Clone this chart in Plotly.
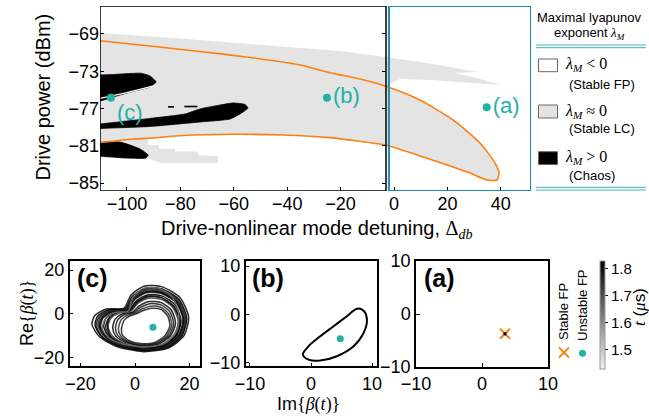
import plotly.graph_objects as go

W, H = 649, 418
FONT = "Liberation Sans, Arial, sans-serif"
TEAL = "#22b1a5"
ORANGE = "#ff7f0e"
CYAN = "#1a8db3"
GRAY = "#e4e4e4"

# ---------------- data: main map ----------------
X_TICKS = [-100, -80, -60, -40, -20, 0, 20, 40]
Y_TICKS = [-69, -73, -77, -81, -85]

# orange boundary (upper branch, then lower branch)
OR_UP_X = [-110.1, -91.4, -72.7, -53.9, -35.2, -24.0, -12.7, -2.2, 9.7, 22.1, 32.2, 37.8, 39.3, 38.6]
OR_UP_Y = [-69.72, -70.29, -70.88, -71.52, -72.32, -73.15, -73.83, -74.68, -76.08, -78.22, -80.69, -82.83, -83.91, -84.66]
OR_LO_X = [34.8, 28.5, 22.1, 9.7, -2.2, -24.0, -41.6, -60.3, -79.0, -92.1, -97.8, -110.1]
OR_LO_Y = [-84.66, -83.91, -83.26, -82.08, -80.98, -80.12, -79.83, -79.76, -79.88, -80.19, -80.26, -80.64]

# stable limit-cycle region (grey): top edge incl. fingers
LC_TOP_X = [-110.1, -72.7, -35.2, -20.2, -3.4, 9.7, 21.0, 31.1, 22.8, 32.2, 39.7, 28.5, 13.5, 2.2, -1.5]
LC_TOP_Y = [-68.89, -69.64, -70.50, -70.82, -71.47, -72.0, -72.54, -73.08, -73.18, -73.83, -74.47, -74.25, -73.93, -73.83, -74.36]
# grey wedge below the lower branch
LC_LOW_X = [-92.1, -88.0, -88.0, -82.0, -82.0, -73.4, -73.4, -65.9, -65.9, -87.3, -92.1, -110.1]
LC_LOW_Y = [-80.90, -80.90, -81.30, -81.30, -81.60, -81.60, -82.00, -82.10, -82.83, -82.83, -82.30, -82.30]

# chaos regions (black)
CH1_X = [-110.1, -104.5, -98.9, -94.8, -91.4, -89.1, -91.4, -97.0, -102.6, -110.1]
CH1_Y = [-73.40, -73.34, -73.24, -73.21, -73.50, -74.15, -74.68, -75.11, -75.54, -76.20]
CH2_X = [-110.1, -91.4, -78.3, -72.7, -67.0, -60.3, -55.8, -54.7, -57.7, -61.4, -72.7, -91.4, -110.1]
CH2_Y = [-78.65, -78.06, -77.58, -77.04, -76.72, -76.40, -76.56, -76.94, -77.58, -78.12, -78.44, -78.92, -79.13]
CH3_X = [-110.1, -102.6, -98.9, -95.1, -92.1, -92.9, -100.7, -110.1]
CH3_Y = [-80.64, -80.59, -80.91, -81.34, -81.98, -82.30, -82.30, -82.09]
GAP_X = [-110.1, -100.0, -89.6]
GAP_Y = [-75.90, -75.30, -74.55]
SPECK_X = [-84.6, -82.4, None, -78.5, -73.6]
SPECK_Y = [-76.82, -76.82, None, -76.78, -76.78]

# marked operating points
PT_X = [-106.0, -25.1, 34.7]
PT_Y = [-75.83, -75.83, -76.86]
PT_LAB = ["(c)", "(b)", "(a)"]

# ---------------- data: phase portraits ----------------
# (c) chaotic attractor: strands read by hand, inner to outer
C_LOOPS = [
    ([-5.0, -4.0, -2.0, 0.5, 3.0, 6.0, 9.5, 12.0, 12.8, 11.0, 7.0, 2.0, -2.5, -4.5, -5.0],
     [-7.0, -3.0, -1.0, 0.0, 1.5, 2.5, 2.0, -1.0, -5.5, -10.0, -13.2, -13.6, -12.0, -10.0, -7.0]),
    ([-6.1, -5.1, -2.9, 0.0, 2.5, 5.7, 9.5, 12.4, 13.5, 11.7, 7.5, 2.1, -3.0, -5.3, -6.1],
     [-6.8, -2.8, -0.7, 0.3, 2.2, 3.5, 3.0, -0.1, -5.1, -10.0, -13.4, -14.0, -12.3, -10.0, -6.8]),
    ([-7.2, -6.2, -3.8, -0.4, 2.0, 5.4, 9.5, 12.9, 14.2, 12.4, 8.0, 2.2, -3.4, -6.2, -7.2],
     [-6.6, -2.5, -0.3, 0.6, 2.9, 4.6, 4.1, 0.8, -4.7, -10.0, -13.6, -14.4, -12.5, -10.1, -6.6]),
    ([-8.2, -7.2, -4.6, -0.9, 1.6, 5.2, 9.6, 13.4, 14.9, 13.1, 8.6, 2.3, -3.9, -7.1, -8.2],
     [-6.4, -2.3, 0.0, 0.8, 3.6, 5.6, 5.1, 1.6, -4.3, -10.0, -13.9, -14.7, -12.8, -10.1, -6.4]),
    ([-9.9, -8.9, -5.8, -1.5, 1.0, 4.9, 9.7, 14.0, 15.9, 14.2, 9.5, 2.5, -4.5, -8.3, -9.9],
     [-6.1, -2.0, 0.4, 1.2, 4.7, 7.1, 6.6, 2.8, -3.7, -10.0, -14.2, -15.3, -13.3, -10.2, -6.1]),
    ([-10.2, -9.2, -6.2, -1.8, 0.8, 4.8, 9.6, 14.3, 16.6, 14.9, 9.8, 2.5, -4.9, -8.9, -10.2],
     [-5.5, -1.5, 0.8, 1.6, 5.2, 7.8, 7.4, 3.2, -3.8, -10.4, -14.6, -15.6, -13.6, -10.6, -5.5]),
    ([-10.8, -9.6, -6.5, -2.0, 0.6, 4.7, 9.5, 14.2, 16.4, 14.8, 9.9, 2.7, -4.8, -9.0, -10.8],
     [-6.0, -1.9, 0.7, 1.5, 5.3, 8.0, 7.5, 3.5, -3.3, -10.0, -14.4, -15.5, -13.5, -10.3, -6.0]),
    ([-11.5, -10.5, -7.1, -2.2, 0.3, 4.5, 9.8, 14.7, 16.9, 15.2, 10.3, 2.6, -5.2, -9.6, -11.5],
     [-5.8, -1.7, 0.9, 1.6, 5.7, 8.6, 8.2, 4.1, -3.1, -10.0, -14.6, -15.8, -13.7, -10.3, -5.8]),
    ([-12.6, -11.6, -8.0, -2.7, -0.2, 4.2, 9.9, 15.2, 17.6, 15.9, 10.9, 2.7, -5.7, -10.5, -12.6],
     [-5.6, -1.5, 1.2, 1.8, 6.4, 9.6, 9.2, 5.0, -2.7, -10.0, -14.8, -16.2, -14.0, -10.4, -5.6]),
    ([-12.9, -11.9, -8.3, -2.8, -0.3, 4.1, 9.8, 15.3, 17.8, 16.1, 11.0, 2.7, -5.8, -10.7, -12.9],
     [-6.2, -2.0, 1.0, 1.7, 6.6, 9.9, 9.5, 5.2, -2.6, -9.6, -14.6, -16.1, -13.8, -10.0, -6.2]),
    ([-13.1, -12.0, -8.5, -2.9, -0.4, 4.1, 9.8, 15.4, 17.9, 16.3, 11.2, 2.8, -5.9, -10.9, -13.1],
     [-5.5, -1.3, 1.4, 2.0, 6.8, 10.2, 9.7, 5.4, -2.5, -10.0, -14.9, -16.4, -14.1, -10.4, -5.5]),
    ([-13.6, -12.6, -8.8, -3.1, -0.6, 4.0, 9.9, 15.6, 18.3, 16.6, 11.4, 2.8, -6.1, -11.3, -13.6],
     [-5.4, -1.2, 1.6, 2.1, 7.1, 10.7, 10.2, 5.8, -2.3, -10.0, -15.0, -16.6, -14.2, -10.4, -5.4]),
    ([-14.2, -13.2, -9.2, -3.3, -0.8, 3.9, 10.0, 15.8, 18.6, 17.0, 11.7, 2.9, -6.3, -11.8, -14.2],
     [-5.6, -1.4, 1.7, 2.0, 7.4, 11.2, 10.8, 6.2, -2.1, -10.2, -15.1, -16.8, -14.3, -10.8, -5.6]),
    ([-14.7, -13.7, -9.7, -3.6, -1.1, 3.7, 10.0, 16.1, 19.0, 17.3, 12.0, 2.9, -6.6, -12.2, -14.7],
     [-5.2, -1.0, 1.9, 2.3, 7.8, 11.7, 11.3, 6.6, -1.9, -10.0, -15.3, -16.9, -14.5, -10.5, -5.2]),
    ([-15.8, -14.8, -10.5, -4.0, -1.5, 3.5, 10.0, 16.5, 19.7, 18.0, 12.5, 3.0, -7.0, -13.0, -15.8],
     [-5.0, -0.8, 2.2, 2.6, 8.5, 12.7, 12.3, 7.5, -1.5, -10.0, -15.5, -17.3, -14.8, -10.5, -5.0]),
    ([-12.0, -11.0, -7.5, -2.5, -0.8, 3.0, 8.5, 13.5, 16.0, 15.5, 11.0, 3.5, -4.5, -9.5, -12.0],
     [-7.0, -2.5, 0.5, 1.3, 7.5, 11.5, 11.8, 8.0, 0.5, -7.5, -13.5, -15.2, -13.8, -11.0, -7.0]),
]
C_COLORS = ["#262626", "#333333", "#1f1f1f", "#111111", "#444444", "#0a0a0a", "#1a1a1a", "#000000",
            "#3a3a3a", "#141414", "#0d0d0d", "#222222", "#2b2b2b", "#000000", "#111111", "#707070"]
C_FP = ([6.6], [-6.1])

# (b) limit cycle
B_X = [-1.34, -0.41, 1.5, 3.69, 5.87, 7.51, 8.61, 9.15, 8.61, 6.97, 4.23, 1.5, -0.41, -1.34]
B_Y = [-8.29, -6.56, -4.5, -2.43, -0.37, 1.2, 0.78, -1.07, -3.81, -6.56, -8.62, -9.52, -9.32, -8.29]
B_FP = ([4.79], [-4.99])

# (a) stable fixed point
A_FP = ([3.48], [-3.74])

CB_TICKS = [1.5, 1.6, 1.7, 1.8]
CB_RANGE = [1.43, 1.83]


def px(x):
    return x / W


def py(y):
    return 1 - y / H


fig = go.Figure()

# ---------- main map ----------
up_i = OR_UP_X.index(-2.2)
lo_i = OR_LO_X.index(-92.1)
lc_x = LC_TOP_X + OR_UP_X[up_i:] + OR_LO_X[:lo_i + 1] + LC_LOW_X
lc_y = LC_TOP_Y + OR_UP_Y[up_i:] + OR_LO_Y[:lo_i + 1] + LC_LOW_Y
fig.add_trace(go.Scatter(x=lc_x, y=lc_y, fill="toself", fillcolor=GRAY, mode="lines",
                         line=dict(width=0, color=GRAY), hoverinfo="skip", showlegend=False))
for cx, cy in [(CH1_X, CH1_Y), (CH2_X, CH2_Y), (CH3_X, CH3_Y)]:
    fig.add_trace(go.Scatter(x=cx, y=cy, fill="toself", fillcolor="black", mode="lines",
                             line=dict(width=0.8, color="black", shape="spline", smoothing=0.5),
                             showlegend=False))
fig.add_trace(go.Scatter(x=GAP_X, y=GAP_Y, mode="lines", line=dict(color="white", width=1.3),
                         showlegend=False))
fig.add_trace(go.Scatter(x=SPECK_X, y=SPECK_Y, mode="lines", line=dict(color="black", width=1.6),
                         showlegend=False))
fig.add_trace(go.Scatter(x=OR_UP_X + OR_LO_X, y=OR_UP_Y + OR_LO_Y, mode="lines",
                         line=dict(color=ORANGE, width=1.6, shape="spline", smoothing=0.6),
                         showlegend=False))
fig.add_trace(go.Scatter(x=PT_X, y=PT_Y, mode="markers+text", text=PT_LAB,
                         textposition=["bottom right", "middle right", "middle right"],
                         textfont=dict(family=FONT, size=22, color=TEAL),
                         marker=dict(color=TEAL, size=8), showlegend=False))
# invisible trace for the right tick column of the black frame
fig.add_trace(go.Scatter(x=[None], y=[None], yaxis="y2", showlegend=False))

# ---------- phase portraits ----------
for (lx, ly), col in zip(C_LOOPS, C_COLORS):
    fig.add_trace(go.Scatter(x=lx, y=ly, xaxis="x2", yaxis="y3", mode="lines",
                             line=dict(color=col, width=1.5, shape="spline", smoothing=0.7),
                             opacity=0.9, showlegend=False))
fig.add_trace(go.Scatter(x=C_FP[0], y=C_FP[1], xaxis="x2", yaxis="y3", mode="markers",
                         marker=dict(color=TEAL, size=7), showlegend=False))

fig.add_trace(go.Scatter(x=B_X, y=B_Y, xaxis="x3", yaxis="y4", mode="lines",
                         line=dict(color="black", width=2, shape="spline", smoothing=1.0),
                         showlegend=False))
fig.add_trace(go.Scatter(x=B_FP[0], y=B_FP[1], xaxis="x3", yaxis="y4", mode="markers",
                         marker=dict(color=TEAL, size=7), showlegend=False))

fig.add_trace(go.Scatter(x=A_FP[0], y=A_FP[1], xaxis="x4", yaxis="y5", mode="markers",
                         marker=dict(symbol="x-thin", size=10, line=dict(color=ORANGE, width=2)),
                         showlegend=False))
fig.add_trace(go.Scatter(x=A_FP[0], y=A_FP[1], xaxis="x4", yaxis="y5", mode="markers",
                         marker=dict(symbol="square", color="black", size=3), showlegend=False))
# colour bar (time)
fig.add_trace(go.Scatter(x=[100, 100], y=[100, 100], xaxis="x4", yaxis="y5", mode="markers",
                         marker=dict(color=CB_TICKS[:2], cmin=CB_RANGE[0], cmax=CB_RANGE[1],
                                     colorscale=[[0, "#f3f3f3"], [1, "#000000"]], showscale=True,
                                     colorbar=dict(x=px(600), xanchor="left", y=py(314.5), yanchor="middle",
                                                   len=108 / H, lenmode="fraction", thickness=5,
                                                   thicknessmode="pixels", xpad=0, ypad=0,
                                                   outlinewidth=1, outlinecolor="#999999",
                                                   tickvals=CB_TICKS, ticks="outside", ticklen=3,
                                                   tickcolor="black",
                                                   tickfont=dict(family=FONT, size=15, color="black"))),
                         showlegend=False))

# ---------- axes ----------
tick_common = dict(ticks="inside", ticklen=4, tickwidth=1, tickcolor="black", showgrid=False,
                   zeroline=False, automargin=False, tickfont=dict(family=FONT, size=18, color="black"))
frame = dict(showline=True, linecolor="black", linewidth=1.5, mirror=True)

fig.update_layout(
    template="none",
    width=W, height=H, margin=dict(l=0, r=0, t=0, b=0, pad=0), autosize=False,
    paper_bgcolor="white", plot_bgcolor="white", showlegend=False,
    font=dict(family=FONT, color="black"),
    xaxis=dict(domain=[px(100), px(531)], range=[-110.1, 51.3], tickvals=X_TICKS, anchor="y",
               showline=False, **tick_common),
    yaxis=dict(domain=[py(191), py(6)], range=[-85.84, -66.0], tickvals=Y_TICKS, anchor="x",
               showline=False, **tick_common),
    yaxis2=dict(overlaying="y", side="right", anchor="free", position=px(386), range=[-85.84, -66.0],
                tickvals=Y_TICKS, showticklabels=False, showline=False, ticks="inside", ticklen=4,
                tickcolor="black", showgrid=False, zeroline=False, automargin=False),
    xaxis2=dict(domain=[px(69.7), px(200.3)], range=[-24, 24], tickvals=[-20, 0, 20], anchor="y3",
                **tick_common, **frame),
    yaxis3=dict(domain=[py(366.3), py(261.3)], range=[-24, 24], tickvals=[-20, 0, 20], anchor="x2",
                **tick_common, **frame),
    xaxis3=dict(domain=[px(245.7), px(377)], range=[-10.7, 10.8], tickvals=[-10, 0, 10], anchor="y4",
                **tick_common, **frame),
    yaxis4=dict(domain=[py(366.3), py(260.7)], range=[-10.7, 11.1], tickvals=[-10, 0, 10], anchor="x3",
                **tick_common, **frame),
    xaxis4=dict(domain=[px(416), px(548)], range=[-10, 10], tickvals=[-10, 0, 10], anchor="y5",
                **tick_common, **frame),
    yaxis5=dict(domain=[py(367), py(261)], range=[-10, 10], tickvals=[-10, 0, 10], anchor="x4",
                **tick_common, **frame),
)

shapes = [
    dict(type="rect", xref="x", yref="y", x0=-110.1, x1=-3.0, y0=-85.84, y1=-66.0,
         line=dict(color="black", width=1.5)),
    dict(type="rect", xref="x", yref="y", x0=-1.9, x1=51.3, y0=-85.84, y1=-66.0,
         line=dict(color=CYAN, width=2)),
]
# legend frame lines and swatches (paper coords)
for yy in (45, 47.7, 187.3, 190):
    shapes.append(dict(type="line", xref="paper", yref="paper", x0=px(536), x1=px(646),
                       y0=py(yy), y1=py(yy), line=dict(color="#3fb6b6", width=1)))
for (y0, y1, fc) in [(59, 71.7, "white"), (105, 118, GRAY), (151.7, 164.5, "black")]:
    shapes.append(dict(type="rect", xref="paper", yref="paper", x0=px(538.5), x1=px(557.5),
                       y0=py(y1), y1=py(y0), fillcolor=fc, line=dict(color="#666666", width=1)))
# rotated legend markers of bottom row
shapes += [
    dict(type="line", xref="paper", yref="paper", x0=px(559), x1=px(569), y0=py(347.5), y1=py(357.5),
         line=dict(color=ORANGE, width=1.8)),
    dict(type="line", xref="paper", yref="paper", x0=px(559), x1=px(569), y0=py(357.5), y1=py(347.5),
         line=dict(color=ORANGE, width=1.8)),
    dict(type="circle", xref="paper", yref="paper", x0=px(579), x1=px(586), y0=py(356.8), y1=py(349.8),
         fillcolor=TEAL, line=dict(color=TEAL, width=0)),
]
fig.update_layout(shapes=shapes)


def ann(x, y, text, size=18, angle=0, family=FONT, color="black", xanchor="center"):
    return dict(x=px(x), y=py(y), xref="paper", yref="paper", text=text, showarrow=False,
                textangle=angle, xanchor=xanchor, yanchor="middle",
                font=dict(family=family, size=size, color=color))


mspan = '<span style="font-family:Liberation Serif">{}</span>'
annotations = [
    ann(43, 97.5, "Drive power (dBm)", size=20, angle=-90),
    ann(316, 229, "Drive-nonlinear mode detuning, " + mspan.format("Δ<sub><i>db</i></sub>"), size=20),
    ann(589, 17.5, "Maximal lyapunov", size=13),
    ann(589, 33.5, "exponent " + mspan.format("<i>λ<sub>M</sub></i>"), size=13),
    ann(563, 65, mspan.format("<i>λ<sub>M</sub></i> &lt; 0"), size=16, xanchor="left"),
    ann(602, 84.5, "(Stable FP)", size=13),
    ann(563, 111, mspan.format("<i>λ<sub>M</sub></i> ≈ 0"), size=16, xanchor="left"),
    ann(602, 128.5, "(Stable LC)", size=13),
    ann(563, 157.5, mspan.format("<i>λ<sub>M</sub></i> &gt; 0"), size=16, xanchor="left"),
    ann(592, 175, "(Chaos)", size=13),
    ann(92, 278, "<b>(c)</b>", size=25),
    ann(268, 278, "<b>(b)</b>", size=25),
    ann(439, 278, "<b>(a)</b>", size=25),
    ann(27, 313, "Re" + mspan.format("{<i>β</i>(<i>t</i>)}"), size=18, angle=-90),
    ann(308, 404, "Im" + mspan.format("{<i>β</i>(<i>t</i>)}"), size=18),
    ann(563, 312, "Stable FP", size=13, angle=-90),
    ann(582, 305, "Unstable FP", size=13, angle=-90),
    ann(639, 307, mspan.format("<i>t</i>") + " (" + mspan.format("<i>μ</i>") + "s)", size=17, angle=-90),
]
fig.update_layout(annotations=annotations)

fig.write_html("out.html", config={"displayModeBar": False},
               post_script="document.body.style.margin='0px';document.body.style.overflow='hidden';")
